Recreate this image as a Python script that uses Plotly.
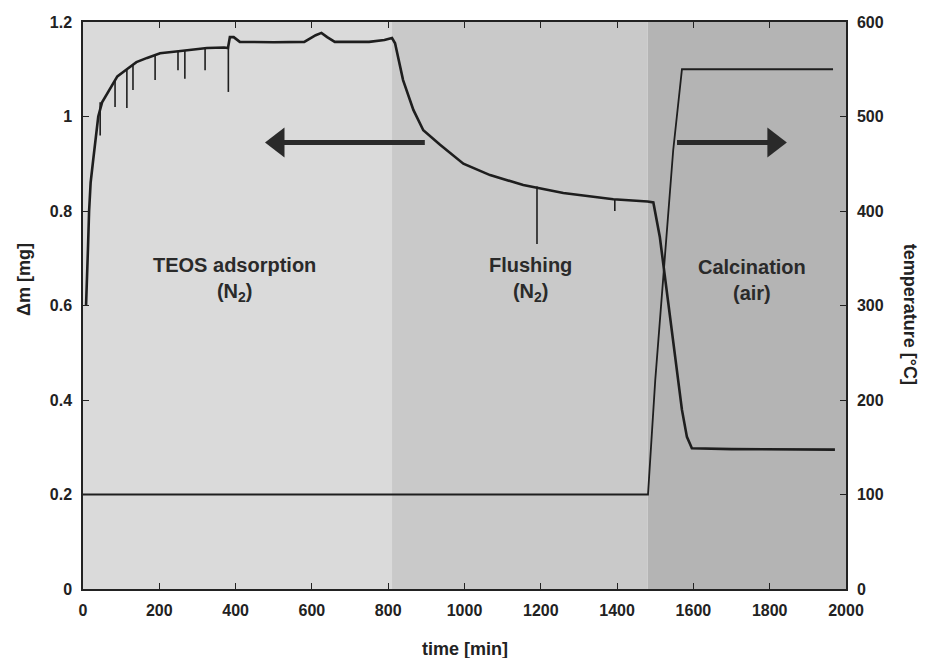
import plotly.graph_objects as go

# ---------------- data ----------------
mass_t = [8, 10, 13, 16, 20, 27, 33, 40, 50, 71, 90, 115, 140, 168, 202, 250, 300, 325, 370,
          380, 385, 395, 411, 500, 580, 595, 610, 625, 640, 660, 750, 790, 810,
          818, 830, 839, 866, 892, 936, 997, 1067, 1154, 1259, 1390, 1480, 1495,
          1512, 1530, 1547, 1565, 1570, 1583, 1596, 1700, 1971]
mass_mg = [0.60, 0.64, 0.72, 0.80, 0.86, 0.91, 0.95, 1.00, 1.03, 1.06, 1.085, 1.10, 1.115, 1.124, 1.134, 1.138, 1.142, 1.145, 1.146,
           1.145, 1.168, 1.168, 1.158, 1.157, 1.158, 1.165, 1.172, 1.177, 1.168, 1.158, 1.158, 1.162, 1.166,
           1.155, 1.110, 1.077, 1.014, 0.971, 0.940, 0.900, 0.876, 0.855, 0.838, 0.825, 0.820, 0.818,
           0.745, 0.633, 0.533, 0.415, 0.379, 0.322, 0.298, 0.296, 0.295]

# downward spikes in the mass signal: time, top value, bottom value
spike_t = [45, 84, 115, 131, 189, 249, 267, 320, 381, 1190, 1394]
spike_top = [1.03, 1.075, 1.10, 1.11, 1.13, 1.138, 1.14, 1.143, 1.146, 0.852, 0.825]
spike_low = [0.96, 1.02, 1.018, 1.056, 1.077, 1.098, 1.08, 1.098, 1.052, 0.73, 0.80]

temp_t = [0, 1481, 1500, 1547, 1570, 1966]
temp_c = [100, 100, 221, 464, 550, 550]

phase_bounds = [0, 810, 1480, 2000]
phase_colors = ["#dadada", "#c9c9c9", "#b4b4b4"]
phase_names = ["TEOS adsorption<br>(N<sub>2</sub>)", "Flushing<br>(N<sub>2</sub>)", "Calcination<br>(air)"]
phase_label_t = [398, 1172, 1754]
phase_label_y = 0.655

x_ticks = list(range(0, 2001, 200))
y1_ticks = [0, 0.2, 0.4, 0.6, 0.8, 1.0, 1.2]
y1_ticktext = ["0", "0.2", "0.4", "0.6", "0.8", "1", "1.2"]
y2_ticks = [0, 100, 200, 300, 400, 500, 600]

# arrows: time of tail, time of tip, level on left axis
arrow_tail = [896, 1557]
arrow_tip = [477, 1845]
arrow_level = 0.945

# ---------------- figure ----------------
FONT = "Liberation Sans, Arial, sans-serif"
INK = "#1e1e1e"
fig = go.Figure()

for i in range(len(phase_colors)):
    fig.add_shape(type="rect", xref="x", yref="y", x0=phase_bounds[i], x1=phase_bounds[i + 1],
                  y0=0, y1=1.2, fillcolor=phase_colors[i], line_width=0, layer="below")

fig.add_trace(go.Scatter(x=mass_t, y=mass_mg, mode="lines", line=dict(color=INK, width=2.6),
                         yaxis="y", showlegend=False, hoverinfo="skip"))

sx, sy = [], []
for t, a, b in zip(spike_t, spike_top, spike_low):
    sx += [t, t, None]
    sy += [a, b, None]
fig.add_trace(go.Scatter(x=sx, y=sy, mode="lines", line=dict(color=INK, width=1.6),
                         yaxis="y", showlegend=False, hoverinfo="skip"))

fig.add_trace(go.Scatter(x=temp_t, y=temp_c, mode="lines", line=dict(color=INK, width=1.8),
                         yaxis="y2", showlegend=False, hoverinfo="skip"))

# arrows drawn as a thick line plus a triangle head
px_per_min = (846 - 83) / 2000.0
head = 26
half_head_min = (head / 2) / px_per_min
for t0, t1 in zip(arrow_tail, arrow_tip):
    direction = 1 if t1 > t0 else -1
    centre = t1 - direction * half_head_min
    fig.add_trace(go.Scatter(x=[t0, centre], y=[arrow_level, arrow_level], mode="lines",
                             line=dict(color="#2a2a2a", width=5), showlegend=False, hoverinfo="skip"))
    fig.add_trace(go.Scatter(x=[centre], y=[arrow_level], mode="markers",
                             marker=dict(symbol="triangle-right" if direction > 0 else "triangle-left",
                                         size=head, color="#2a2a2a", line_width=0),
                             showlegend=False, hoverinfo="skip"))

annotations = []
for name, t in zip(phase_names, phase_label_t):
    annotations.append(dict(x=t, y=phase_label_y, xref="x", yref="y", text=name, showarrow=False,
                            font=dict(family=FONT, size=20, color="#2a2a2a", weight="bold")))

annotations += [
    dict(x=0.5, y=-0.085, xref="paper", yref="paper", text="time [min]", showarrow=False,
         yanchor="top", font=dict(family=FONT, size=18, color="#222", weight="bold")),
    dict(x=-0.093, y=0.545, xref="paper", yref="paper", text="Δm [mg]", showarrow=False,
         textangle=-90, font=dict(family=FONT, size=18, color="#222", weight="bold")),
    dict(x=1.1, y=0.485, xref="paper", yref="paper", text="temperature [°C]", showarrow=False,
         textangle=90, font=dict(family=FONT, size=18, color="#222", weight="bold")),
]

tickfont = dict(family=FONT, size=16, color="#222", weight="bold")
fig.update_layout(
    width=927, height=658,
    margin=dict(l=83, r=81, t=22, b=69),
    paper_bgcolor="white", plot_bgcolor="white",
    showlegend=False,
    annotations=annotations,
    xaxis=dict(range=[0, 2000], tickvals=x_ticks, ticks="inside", ticklen=6, tickwidth=1.2,
               tickcolor="#222", showline=True, linecolor="#222", linewidth=1.5, mirror="ticks",
               showgrid=False, zeroline=False, tickfont=tickfont, ticklabelstandoff=6),
    yaxis=dict(range=[0, 1.2], tickvals=y1_ticks, ticktext=y1_ticktext, ticks="inside", ticklen=6,
               tickwidth=1.2, tickcolor="#222", showline=True, linecolor="#222", linewidth=1.5,
               showgrid=False, zeroline=False, tickfont=tickfont, ticklabelstandoff=6),
    yaxis2=dict(range=[0, 600], tickvals=y2_ticks, overlaying="y", side="right", ticks="inside",
                ticklen=6, tickwidth=1.2, tickcolor="#222", showline=True, linecolor="#222",
                linewidth=1.5, showgrid=False, zeroline=False, tickfont=tickfont, ticklabelstandoff=6),
)

fig.write_html("out.html")
